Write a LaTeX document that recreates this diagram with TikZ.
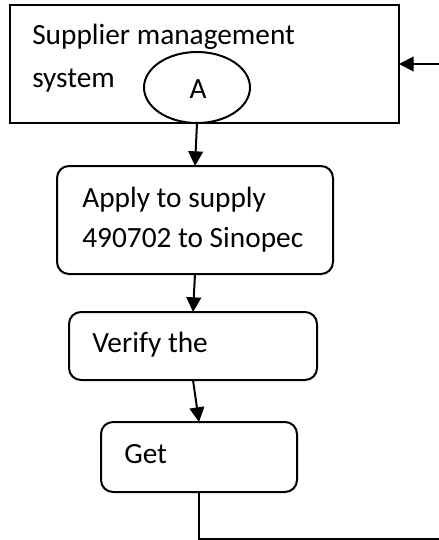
\documentclass[tikz,border=0pt]{standalone}
\usepackage{fontspec}
\setmainfont{Carlito}
\usetikzlibrary{arrows.meta,shapes.geometric}
\begin{document}
\begin{tikzpicture}[x=0.75pt,y=-0.75pt,
  box/.style={draw,line width=1.5pt,inner sep=0pt,outer sep=0pt,rectangle},
  rbox/.style={box,rounded corners=9pt},
  oval/.style={draw,line width=1.5pt,inner sep=0pt,outer sep=0pt,ellipse},
  lbl/.style={inner sep=0pt,anchor=base west,font=\fontsize{22pt}{26pt}\selectfont},
  conn/.style={line width=1.5pt},
  arr/.style={conn,-{Triangle[length=11pt,width=11pt]}}]
\useasboundingbox (0,0) rectangle (439,540);
\node[box,minimum width=291.75pt,minimum height=88.5pt] (top) at (204.5,64) {};
\node[lbl] (t1) at (32,44) {Supplier management};
\node[lbl] (t2) at (32,87) {system};
\node[oval,fill=white,minimum width=79.5pt,minimum height=53.25pt] (A) at (197,87.5) {};
\node[lbl,anchor=base] (Alabel) at (198,98) {A};
\node[rbox,minimum width=207pt,minimum height=81pt] (apply) at (195,220) {};
\node[lbl] (a1) at (82,207) {Apply to supply};
\node[lbl] (a2) at (82,247) {490702 to Sinopec};
\node[rbox,minimum width=186pt,minimum height=51pt] (verify) at (193,346) {};
\node[lbl] (v1) at (92,352) {Verify the};
\node[rbox,minimum width=147pt,minimum height=52.5pt] (get) at (199,457) {};
\node[lbl] (g1) at (124,463) {Get};
\coordinate (br) at (439,539);
\coordinate (tr) at (439,64);
\draw[arr] (A.south) -- (apply.north);
\draw[arr] (apply.south) -- (verify.north);
\draw[arr] (verify.south) -- (get.north);
\draw[conn] (get.south) |- (br);
\draw[arr] (tr) -- (top.east);
\end{tikzpicture}
\end{document}
